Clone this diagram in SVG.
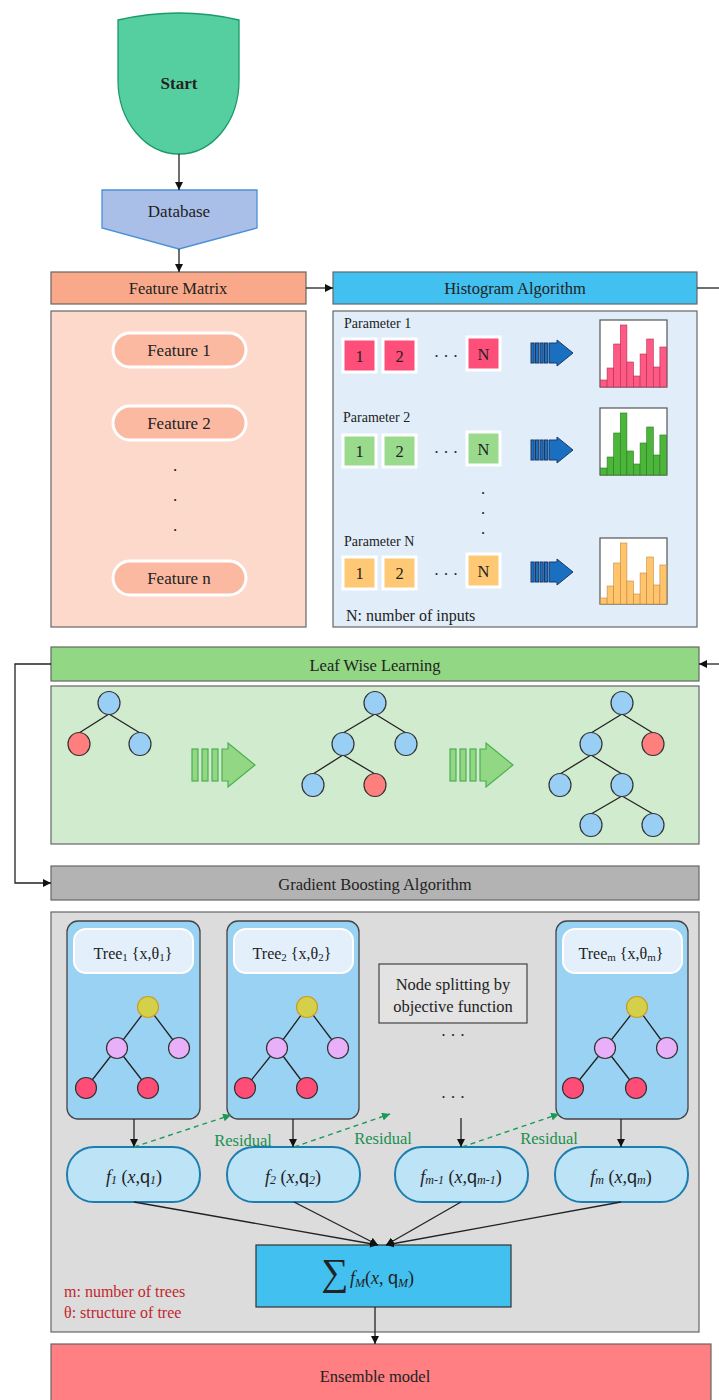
<svg xmlns="http://www.w3.org/2000/svg" width="719" height="1400" viewBox="0 0 719 1400">
<defs>
<marker id="ah" markerWidth="8" markerHeight="8" refX="8" refY="4" orient="auto" markerUnits="userSpaceOnUse"><path d="M0,0 L8,4 L0,8 z" fill="#111"/></marker>
<marker id="ahg" markerWidth="8" markerHeight="8" refX="8" refY="4" orient="auto" markerUnits="userSpaceOnUse"><path d="M0,0 L8,4 L0,8 z" fill="#1a9a5a"/></marker>
<style>
text{font-family:"Liberation Serif","Times New Roman",serif;fill:#222}
.t15{font-size:16.5px}
.t17{font-size:17px}
.c{text-anchor:middle;dominant-baseline:central}
.bar{stroke:#666;stroke-width:1.2}
.pill{fill:#fbb9a2;stroke:#fff;stroke-width:3}
.sqp{fill:#fe4f7b;stroke:#fff;stroke-width:3}
.sqg{fill:#99da8c;stroke:#fff;stroke-width:3}
.sqo{fill:#ffc874;stroke:#fff;stroke-width:3}
.hb{fill:#1a6fc0;stroke:#1a3a6a;stroke-width:1}
.hp{fill:#fe5a85;stroke:#b0304f;stroke-width:0.6}
.hg{fill:#4cb63a;stroke:#2a7a20;stroke-width:0.6}
.ho{fill:#ffc46c;stroke:#c08a40;stroke-width:0.6}
.chart{fill:#fff;stroke:#555;stroke-width:1.2}
.nb{fill:#99cff5;stroke:#333;stroke-width:1.2}
.nr{fill:#ff7f7f;stroke:#333;stroke-width:1.2}
.ga{fill:#92d784;stroke:#4caf50;stroke-width:1.2}
.edge{stroke:#222;stroke-width:1.3;fill:none}
.tb{fill:#9ad2f4;stroke:#444;stroke-width:1.3}
.tl{fill:#e3f0fb;stroke:#fff;stroke-width:2}
.ny{fill:#d4d04a;stroke:#d09a20;stroke-width:1.2}
.nv{fill:#e8b0f8;stroke:#333;stroke-width:1.2}
.nk{fill:#ff4d78;stroke:#333;stroke-width:1.2}
.fp{fill:#bde3f7;stroke:#1a7fb0;stroke-width:2}
.conn{stroke:#222;stroke-width:1.3;fill:none}
.res{stroke:#1a9a5a;stroke-width:1.4;fill:none;stroke-dasharray:5,4}
.i{font-style:italic}
.sans{font-family:"Liberation Sans",Arial,sans-serif}
.rl{font-size:16.5px;fill:#1a9050;text-anchor:middle}
.lg{font-size:16px;fill:#c0282e}
</style>
</defs>

<g id="start">
<path d="M118,20 Q179,6 239,20 L239,80 C239,122 212,154 179,154 C146,154 118,122 118,80 Z" fill="#56cfa0" stroke="#1a9a6a" stroke-width="1.3"/>
<text x="179" y="83" class="c" font-size="17" font-weight="bold">Start</text>
</g>

<g id="database">
<path d="M102,190 L257,190 L257,228 L179,249 L102,228 Z" fill="#aabfe8" stroke="#4a90d8" stroke-width="1.3"/>
<text x="179" y="211" class="c t17">Database</text>
</g>

<g id="feature-matrix">
<rect x="51" y="272" width="255" height="32" fill="#f9a98a" class="bar"/>
<text x="178" y="288" class="c t15">Feature Matrix</text>
</g>

<g id="feature-panel">
<rect x="51" y="311" width="255" height="316" fill="#fdd9cc" class="bar"/>
<rect x="113" y="333" width="133" height="34" rx="17" class="pill"/>
<text x="179" y="350" class="c t17">Feature 1</text>
<rect x="113" y="406" width="133" height="34" rx="17" class="pill"/>
<text x="179" y="423" class="c t17">Feature 2</text>
<text x="175" y="465" class="c t17">.</text>
<text x="175" y="495" class="c t17">.</text>
<text x="175" y="525" class="c t17">.</text>
<rect x="113" y="561" width="133" height="34" rx="17" class="pill"/>
<text x="179" y="578" class="c t17">Feature n</text>
</g>

<g id="histogram-algorithm">
<rect x="333" y="272" width="364" height="32" fill="#42c0f0" class="bar"/>
<text x="515" y="288" class="c t15">Histogram Algorithm</text>
</g>

<g id="histogram-panel">
<rect x="333" y="311" width="364" height="316" fill="#e1eef9" class="bar"/>
<text x="344" y="328" font-size="14">Parameter 1</text>
<rect x="343" y="339" width="33" height="33" class="sqp"/><text x="359.5" y="356" class="c t15">1</text>
<rect x="383" y="339" width="33" height="33" class="sqp"/><text x="399.5" y="356" class="c t15">2</text>
<text x="446" y="356" class="c t15">· · ·</text>
<rect x="467" y="337" width="33" height="33" class="sqp"/><text x="483.5" y="354" class="c t15">N</text>
<g class="hb"><rect x="531" y="343" width="3.2" height="20"/><rect x="535.5" y="343" width="3.2" height="20"/><rect x="540" y="343" width="3.2" height="20"/><rect x="544.5" y="343" width="3.2" height="20"/><path d="M549,343 L557,343 L557,340 L573,353 L557,366 L557,363 L549,363 Z"/></g>
<rect x="600" y="320" width="67" height="67" class="chart"/>
<g class="hp">
<rect x="600.5" y="380" width="6.6" height="7"/><rect x="607.1" y="368" width="6.6" height="19"/><rect x="613.7" y="344" width="6.6" height="43"/><rect x="620.3" y="325" width="6.6" height="62"/><rect x="626.9" y="362" width="6.6" height="25"/><rect x="633.5" y="376" width="6.6" height="11"/><rect x="640.1" y="354" width="6.6" height="33"/><rect x="646.7" y="339" width="6.6" height="48"/><rect x="653.3" y="367" width="6.6" height="20"/><rect x="659.9" y="347" width="6.6" height="40"/>
</g>

<text x="343" y="422" font-size="14">Parameter 2</text>
<rect x="343" y="435" width="33" height="32" class="sqg"/><text x="359.5" y="451" class="c t15">1</text>
<rect x="383" y="435" width="33" height="32" class="sqg"/><text x="399.5" y="451" class="c t15">2</text>
<text x="446" y="452" class="c t15">· · ·</text>
<rect x="467" y="432" width="33" height="33" class="sqg"/><text x="483.5" y="449" class="c t15">N</text>
<g class="hb"><rect x="531" y="440" width="3.2" height="20"/><rect x="535.5" y="440" width="3.2" height="20"/><rect x="540" y="440" width="3.2" height="20"/><rect x="544.5" y="440" width="3.2" height="20"/><path d="M549,440 L557,440 L557,437 L573,450 L557,463 L557,460 L549,460 Z"/></g>
<rect x="600" y="408" width="67" height="67" class="chart"/>
<g class="hg">
<rect x="600.5" y="468" width="6.6" height="7"/><rect x="607.1" y="457" width="6.6" height="18"/><rect x="613.7" y="433" width="6.6" height="42"/><rect x="620.3" y="413" width="6.6" height="62"/><rect x="626.9" y="451" width="6.6" height="24"/><rect x="633.5" y="464" width="6.6" height="11"/><rect x="640.1" y="443" width="6.6" height="32"/><rect x="646.7" y="427" width="6.6" height="48"/><rect x="653.3" y="455" width="6.6" height="20"/><rect x="659.9" y="435" width="6.6" height="40"/>
</g>

<text x="483" y="488" class="c t15">.</text>
<text x="483" y="508" class="c t15">.</text>
<text x="483" y="528" class="c t15">.</text>

<text x="344" y="546" font-size="14">Parameter N</text>
<rect x="343" y="557" width="33" height="32" class="sqo"/><text x="359.5" y="573" class="c t15">1</text>
<rect x="383" y="557" width="33" height="32" class="sqo"/><text x="399.5" y="573" class="c t15">2</text>
<text x="446" y="574" class="c t15">· · ·</text>
<rect x="467" y="554" width="33" height="33" class="sqo"/><text x="483.5" y="571" class="c t15">N</text>
<g class="hb"><rect x="531" y="562" width="3.2" height="20"/><rect x="535.5" y="562" width="3.2" height="20"/><rect x="540" y="562" width="3.2" height="20"/><rect x="544.5" y="562" width="3.2" height="20"/><path d="M549,562 L557,562 L557,559 L573,572 L557,585 L557,582 L549,582 Z"/></g>
<rect x="600" y="538" width="67" height="66" class="chart"/>
<g class="ho">
<rect x="600.5" y="598" width="6.6" height="6"/><rect x="607.1" y="586" width="6.6" height="18"/><rect x="613.7" y="563" width="6.6" height="41"/><rect x="620.3" y="543" width="6.6" height="61"/><rect x="626.9" y="581" width="6.6" height="23"/><rect x="633.5" y="594" width="6.6" height="10"/><rect x="640.1" y="573" width="6.6" height="31"/><rect x="646.7" y="557" width="6.6" height="47"/><rect x="653.3" y="585" width="6.6" height="19"/><rect x="659.9" y="565" width="6.6" height="39"/>
</g>
<text x="346" y="621" font-size="16">N: number of inputs</text>
</g>

<g id="leaf-wise-learning">
<rect x="51" y="647" width="648" height="34" fill="#92d784" class="bar"/>
<text x="375" y="665" class="c t15">Leaf Wise Learning</text>
</g>

<g id="leaf-panel">
<rect x="51" y="686" width="648" height="158" fill="#d1ebce" class="bar"/>
<path class="edge" d="M109,714 L79,733 M109,714 L140,733"/>
<ellipse cx="109" cy="703" rx="11" ry="11.5" class="nb"/>
<ellipse cx="79" cy="744" rx="11" ry="11.5" class="nr"/>
<ellipse cx="140" cy="744" rx="11" ry="11.5" class="nb"/>
<g class="ga"><rect x="192" y="749" width="6" height="32"/><rect x="202" y="749" width="6" height="32"/><rect x="212" y="749" width="6" height="32"/><path d="M222,749 L228,749 L228,743 L255,765 L228,787 L228,781 L222,781 Z"/></g>
<path class="edge" d="M375,714 L343,733 M375,714 L406,733 M343,755 L313,774 M343,755 L375,774"/>
<ellipse cx="375" cy="703" rx="11" ry="11.5" class="nb"/>
<ellipse cx="343" cy="744" rx="11" ry="11.5" class="nb"/>
<ellipse cx="406" cy="744" rx="11" ry="11.5" class="nb"/>
<ellipse cx="313" cy="785" rx="11" ry="11.5" class="nb"/>
<ellipse cx="375" cy="785" rx="11" ry="11.5" class="nr"/>
<g class="ga"><rect x="450" y="749" width="6" height="32"/><rect x="460" y="749" width="6" height="32"/><rect x="470" y="749" width="6" height="32"/><path d="M480,749 L486,749 L486,743 L513,765 L486,787 L486,781 L480,781 Z"/></g>
<path class="edge" d="M622,714 L591,733 M622,714 L653,733 M591,755 L560,774 M591,755 L622,774 M622,796 L591,814 M622,796 L653,814"/>
<ellipse cx="622" cy="703" rx="11" ry="11.5" class="nb"/>
<ellipse cx="591" cy="744" rx="11" ry="11.5" class="nb"/>
<ellipse cx="653" cy="744" rx="11" ry="11.5" class="nr"/>
<ellipse cx="560" cy="785" rx="11" ry="11.5" class="nb"/>
<ellipse cx="622" cy="785" rx="11" ry="11.5" class="nb"/>
<ellipse cx="591" cy="825" rx="11" ry="11.5" class="nb"/>
<ellipse cx="653" cy="825" rx="11" ry="11.5" class="nb"/>
</g>

<g id="gradient-boosting">
<rect x="51" y="866" width="648" height="34" fill="#b3b3b3" class="bar"/>
<text x="375" y="884" class="c t15">Gradient Boosting Algorithm</text>
</g>

<g id="gb-panel">
<rect x="51" y="912" width="648" height="420" fill="#dcdcdc" class="bar"/>
</g>

<g id="tree1">
<rect x="67" y="921" width="133" height="198" rx="11" class="tb"/>
<rect x="74" y="929" width="119" height="44" rx="12" class="tl"/>
<text x="133" y="953" class="c" font-size="16">Tree<tspan font-size="11" dy="4">1</tspan><tspan dy="-4"> {x,θ</tspan><tspan font-size="11" dy="4">1</tspan><tspan dy="-4">}</tspan></text>
<path class="edge" d="M148,1007 L117,1048 M148,1007 L179,1048 M117,1048 L86,1088 M117,1048 L148,1088"/>
<circle cx="148" cy="1007" r="10.5" class="ny"/>
<circle cx="117" cy="1048" r="10.5" class="nv"/>
<circle cx="179" cy="1048" r="10.5" class="nv"/>
<circle cx="86" cy="1088" r="10.5" class="nk"/>
<circle cx="148" cy="1088" r="10.5" class="nk"/>
</g>

<g id="tree2">
<rect x="227" y="921" width="132" height="198" rx="11" class="tb"/>
<rect x="234" y="929" width="119" height="44" rx="12" class="tl"/>
<text x="292" y="953" class="c" font-size="16">Tree<tspan font-size="11" dy="4">2</tspan><tspan dy="-4"> {x,θ</tspan><tspan font-size="11" dy="4">2</tspan><tspan dy="-4">}</tspan></text>
<path class="edge" d="M307,1007 L277,1048 M307,1007 L338,1048 M277,1048 L245,1088 M277,1048 L307,1088"/>
<circle cx="307" cy="1007" r="10.5" class="ny"/>
<circle cx="277" cy="1048" r="10.5" class="nv"/>
<circle cx="338" cy="1048" r="10.5" class="nv"/>
<circle cx="245" cy="1088" r="10.5" class="nk"/>
<circle cx="307" cy="1088" r="10.5" class="nk"/>
</g>

<g id="node-splitting">
<rect x="379" y="964" width="148" height="59" fill="#e3e3e3" stroke="#444" stroke-width="1.2"/>
<text x="453" y="984" class="c t15">Node splitting by</text>
<text x="453" y="1006" class="c t15">objective function</text>
<text x="453" y="1035" class="c t15">· · ·</text>
<text x="453" y="1097" class="c t15">· · ·</text>
</g>

<g id="treem">
<rect x="556" y="921" width="132" height="198" rx="11" class="tb"/>
<rect x="563" y="929" width="119" height="44" rx="12" class="tl"/>
<text x="621" y="953" class="c" font-size="16">Tree<tspan font-size="11" dy="4">m</tspan><tspan dy="-4"> {x,θ</tspan><tspan font-size="11" dy="4">m</tspan><tspan dy="-4">}</tspan></text>
<path class="edge" d="M637,1007 L605,1048 M637,1007 L667,1048 M605,1048 L573,1088 M605,1048 L636,1088"/>
<circle cx="637" cy="1007" r="10.5" class="ny"/>
<circle cx="605" cy="1048" r="10.5" class="nv"/>
<circle cx="667" cy="1048" r="10.5" class="nv"/>
<circle cx="573" cy="1088" r="10.5" class="nk"/>
<circle cx="636" cy="1088" r="10.5" class="nk"/>
</g>

<g id="f1">
<rect x="67" y="1147" width="133" height="55" rx="27" class="fp"/>
<text x="134" y="1177" class="c" font-size="18"><tspan class="i">f</tspan><tspan class="i" font-size="12" dy="3">1</tspan><tspan dy="-3"> (</tspan><tspan class="i">x</tspan>,<tspan class="sans">q</tspan><tspan class="i" font-size="12" dy="3">1</tspan><tspan dy="-3">)</tspan></text>
</g>
<g id="f2">
<rect x="227" y="1147" width="133" height="55" rx="27" class="fp"/>
<text x="293" y="1177" class="c" font-size="18"><tspan class="i">f</tspan><tspan class="i" font-size="12" dy="3">2</tspan><tspan dy="-3"> (</tspan><tspan class="i">x</tspan>,<tspan class="sans">q</tspan><tspan class="i" font-size="12" dy="3">2</tspan><tspan dy="-3">)</tspan></text>
</g>
<g id="fm-1">
<rect x="395" y="1147" width="133" height="55" rx="27" class="fp"/>
<text x="461" y="1177" class="c" font-size="18"><tspan class="i">f</tspan><tspan class="i" font-size="12" dy="3">m-1</tspan><tspan dy="-3"> (</tspan><tspan class="i">x</tspan>,<tspan class="sans">q</tspan><tspan class="i" font-size="12" dy="3">m-1</tspan><tspan dy="-3">)</tspan></text>
</g>
<g id="fm">
<rect x="555" y="1147" width="133" height="55" rx="27" class="fp"/>
<text x="621" y="1177" class="c" font-size="18"><tspan class="i">f</tspan><tspan class="i" font-size="12" dy="3">m</tspan><tspan dy="-3"> (</tspan><tspan class="i">x</tspan>,<tspan class="sans">q</tspan><tspan class="i" font-size="12" dy="3">m</tspan><tspan dy="-3">)</tspan></text>
</g>

<g id="sum">
<rect x="256" y="1245" width="255" height="62" fill="#42c0f0" stroke="#333" stroke-width="1.2"/>
<text x="335" y="1272" class="c" font-size="38">∑</text>
<text x="350" y="1284" font-size="18"><tspan class="i">f</tspan><tspan class="i" font-size="12" dy="3">M</tspan><tspan dy="-3">(</tspan><tspan class="i">x</tspan>, <tspan class="sans">q</tspan><tspan class="i" font-size="12" dy="3">M</tspan><tspan dy="-3">)</tspan></text>
</g>

<g id="legend">
<text x="64" y="1297" class="lg">m: number of trees</text>
<text x="64" y="1318" class="lg">θ: structure of tree</text>
</g>

<g id="ensemble">
<rect x="51" y="1344" width="660" height="60" fill="#ff7f82" class="bar"/>
<text x="375" y="1376" class="c t15">Ensemble model</text>
</g>

<g id="connectors">
<path class="conn" d="M179,154 L179,190" marker-end="url(#ah)"/>
<path class="conn" d="M179,249 L179,272" marker-end="url(#ah)"/>
<path class="conn" d="M306,288 L333,288" marker-end="url(#ah)"/>
<path class="conn" d="M697,288 L719,288"/>
<path class="conn" d="M719,664 L699,664" marker-end="url(#ah)"/>
<path class="conn" d="M51,664 L15,664 L15,883 L51,883" marker-end="url(#ah)"/>
<path class="conn" d="M134,1119 L134,1147" marker-end="url(#ah)"/>
<path class="conn" d="M293,1119 L293,1147" marker-end="url(#ah)"/>
<path class="conn" d="M461,1118 L461,1147" marker-end="url(#ah)"/>
<path class="conn" d="M621,1119 L621,1147" marker-end="url(#ah)"/>
<path class="res" d="M134,1147 L231,1115" marker-end="url(#ahg)"/>
<path class="res" d="M294,1147 L390,1114" marker-end="url(#ahg)"/>
<path class="res" d="M462,1147 L559,1114" marker-end="url(#ahg)"/>
<path class="conn" d="M134,1202 L378,1245" marker-end="url(#ah)"/>
<path class="conn" d="M294,1202 L378,1245" marker-end="url(#ah)"/>
<path class="conn" d="M461,1202 L386,1245" marker-end="url(#ah)"/>
<path class="conn" d="M621,1202 L386,1245" marker-end="url(#ah)"/>
<path class="conn" d="M375,1307 L375,1344" marker-end="url(#ah)"/>
<text x="243" y="1146" class="rl">Residual</text>
<text x="383" y="1144" class="rl">Residual</text>
<text x="549" y="1144" class="rl">Residual</text>
</g>
</svg>
